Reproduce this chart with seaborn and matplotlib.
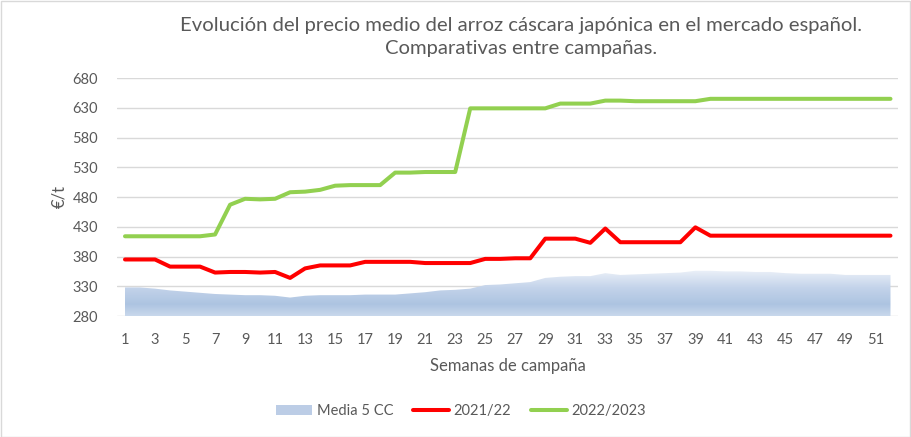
import numpy as np
import pandas as pd
import matplotlib
matplotlib.use("Agg")
import matplotlib.pyplot as plt
import seaborn as sns
from matplotlib.colors import LinearSegmentedColormap
from matplotlib.patches import Rectangle
from matplotlib.lines import Line2D

weeks = list(range(1, 53))

media_5cc = [328, 328, 326, 323, 321, 319, 317, 316, 315, 315, 314, 311, 314, 315, 315, 315,
             316, 316, 316, 318, 320, 323, 324, 326, 332, 333, 335, 337, 344, 346, 347, 347,
             352, 349, 350, 351, 352, 353, 356, 356, 355, 355, 354, 354, 352, 351, 351, 351,
             349, 349, 349, 349]

s2021_22 = [375, 375, 375, 363, 363, 363, 353, 354, 354, 353, 354, 344, 360, 365, 365, 365,
            371, 371, 371, 371, 369, 369, 369, 369, 376, 376, 377, 377, 410, 410, 410, 403,
            427, 404, 404, 404, 404, 404, 429, 415, 415, 415, 415, 415, 415, 415, 415, 415,
            415, 415, 415, 415]

s2022_23 = [414, 414, 414, 414, 414, 414, 417, 467, 477, 476, 477, 488, 489, 492, 499, 500,
            500, 500, 521, 521, 522, 522, 522, 629, 629, 629, 629, 629, 629, 637, 637, 637,
            642, 642, 641, 641, 641, 641, 641, 645, 645, 645, 645, 645, 645, 645, 645, 645,
            645, 645, 645, 645]

x_ticks = list(range(1, 52, 2))
y_ticks = [280, 330, 380, 430, 480, 530, 580, 630, 680]

title = "Evolución del precio medio del arroz cáscara japónica en el mercado español.\nComparativas entre campañas."
label_area = "Media 5 CC"
label_red = "2021/22"
label_green = "2022/2023"

sns.set_theme(style="white")
plt.rcParams['font.family'] = ['Lato', 'DejaVu Sans']

text_col = "#595959"
grid_col = "#d9d9d9"

fig = plt.figure(figsize=(9.11, 4.37), dpi=100)
ax = fig.add_axes([117.5 / 911, 1 - 316 / 437, (898 - 117.5) / 911, (316 - 78) / 437])

df = pd.DataFrame({"week": weeks, "media": media_5cc, "red": s2021_22, "green": s2022_23})

# gradient area
poly = ax.fill_between(df["week"], 280, df["media"], color="none", lw=0, zorder=1)
cmap = LinearSegmentedColormap.from_list("g", [(0.0, "#c9d8ec"), (0.25, "#adc4e1"),
                                               (0.6, "#c3d3ea"), (1.0, "#eef2f9")])
grad = np.linspace(0, 1, 256).reshape(-1, 1)
im = ax.imshow(grad, cmap=cmap, aspect="auto", origin="lower",
               extent=[1, 52, 280, 358], zorder=1)
path = poly.get_paths()[0]
im.set_clip_path(path, transform=ax.transData)

sns.lineplot(data=df, x="week", y="red", ax=ax, color="#ff0000", lw=2.9, zorder=3)
sns.lineplot(data=df, x="week", y="green", ax=ax, color="#92d050", lw=2.9, zorder=3)

ax.set_xlim(0.5, 52.5)
ax.set_ylim(280, 680)
ax.set_xticks(x_ticks)
ax.set_yticks(y_ticks)
ax.set_xticklabels([str(v) for v in x_ticks])
ax.set_yticklabels([str(v) for v in y_ticks])
ax.tick_params(axis="both", length=0, labelsize=10.5, labelcolor=text_col)
ax.tick_params(axis="x", pad=12)
ax.tick_params(axis="y", pad=14)
ax.grid(axis="y", color=grid_col, lw=1)
ax.set_axisbelow(True)
for s in ax.spines.values():
    s.set_visible(False)

ax.set_xlabel("Semanas de campaña", fontsize=12, color=text_col, labelpad=8)
ax.set_ylabel("€/t", fontsize=12, color=text_col, labelpad=4)

fig.text(521 / 911, 1 - 37 / 437, title, ha="center", va="center", fontsize=14.6,
         color=text_col, linespacing=1.4)

# legend
handles = [Rectangle((0, 0), 1, 1, facecolor="#bccde6", edgecolor="none"),
           Line2D([0], [0], color="#ff0000", lw=2.9),
           Line2D([0], [0], color="#92d050", lw=2.9)]
fig.legend(handles, [label_area, label_red, label_green], loc="center",
           bbox_to_anchor=(461 / 911, 1 - 411 / 437), ncol=3, frameon=False,
           fontsize=10.5, labelcolor=text_col, handlelength=2.5, handletextpad=0.3,
           columnspacing=1.35)

fig.patches.append(Rectangle((0.5 / 911, 0.5 / 437), 909 / 911, 436 / 437, transform=fig.transFigure,
                             fill=False, edgecolor=grid_col, lw=1))

fig.savefig("out.png", dpi=100)
